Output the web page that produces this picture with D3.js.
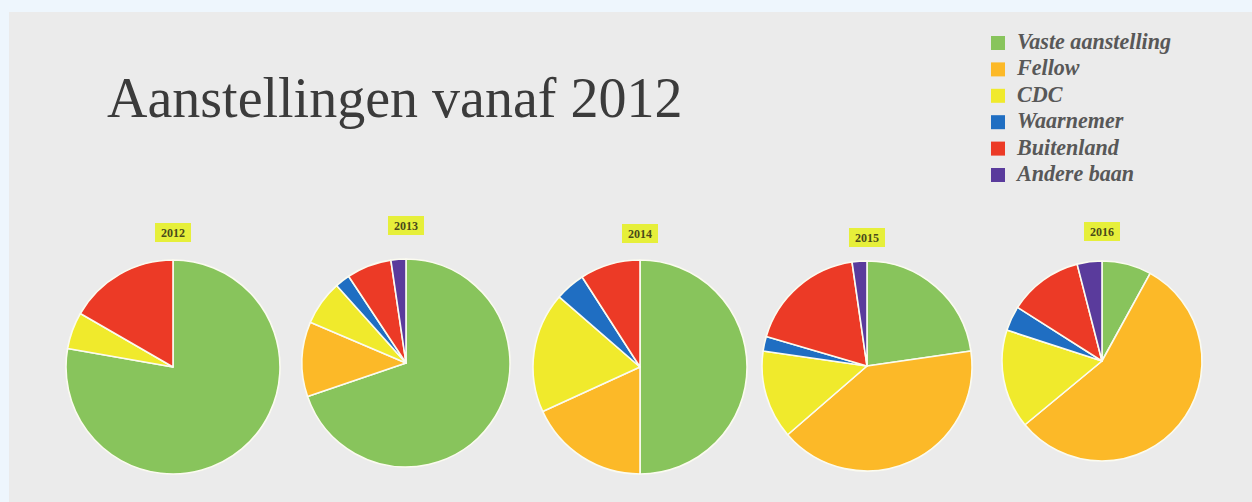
<!DOCTYPE html>
<html>
<head>
<meta charset="utf-8">
<script src="https://cdn.jsdelivr.net/npm/d3@7"></script>
<style>
  html, body { margin: 0; padding: 0; background: #eef6fd; }
  svg { display: block; }
</style>
</head>
<body>
<svg id="chart" width="1252" height="502"></svg>
<script>
// Appointment categories (legend order = slice order, clockwise from 12 o'clock)
const categories = ["Vaste aanstelling", "Fellow", "CDC", "Waarnemer", "Buitenland", "Andere baan"];
const years = ["2012", "2013", "2014", "2015", "2016"];

// Number of appointments per category, one array per year
const values2012 = [14, 0, 1, 0, 3, 0];
const values2013 = [30, 5, 3, 1, 3, 1];
const values2014 = [11, 4, 4, 1, 2, 0];
const values2015 = [10, 18, 6, 1, 8, 1];
const values2016 = [2, 14, 4, 1, 3, 1];

const titleText = "Aanstellingen vanaf 2012";

const series = [values2012, values2013, values2014, values2015, values2016];
const colors = ["#88c45c", "#fcb928", "#f0ea2c", "#1f6ec2", "#ec3a26", "#5a3b9c"];

const svg = d3.select("#chart");
const W = 1252, H = 502;

// Grey slide panel
svg.append("rect")
  .attr("x", 9).attr("y", 12)
  .attr("width", W - 9).attr("height", H - 12)
  .attr("fill", "#ebebeb");

// Title
const title = svg.append("text")
  .attr("x", 107).attr("y", 117)
  .attr("font-family", "'Liberation Serif', 'DejaVu Serif', serif")
  .attr("font-size", 56)
  .attr("fill", "#3b3b3b")
  .text(titleText);
const tw = title.node().getComputedTextLength();
if (Math.abs(tw - 578) > 4) title.attr("textLength", 578).attr("lengthAdjust", "spacingAndGlyphs");

// Legend
const color = d3.scaleOrdinal().domain(categories).range(colors);
const legendY = d3.scalePoint().domain(categories).range([43, 175]);
const legend = svg.append("g");
const rows = legend.selectAll("g").data(categories).join("g")
  .attr("transform", d => `translate(991, ${legendY(d)})`);
rows.append("rect")
  .attr("x", 0).attr("y", -7)
  .attr("width", 14).attr("height", 14)
  .attr("fill", d => color(d));
const ltext = rows.append("text")
  .attr("x", 26).attr("y", 6)
  .attr("font-family", "'Liberation Serif', 'DejaVu Serif', serif")
  .attr("font-style", "italic")
  .attr("font-weight", "bold")
  .attr("font-size", 18)
  .attr("fill", "#585858")
  .text(d => d);
// keep legend width consistent with the slide layout
const firstW = ltext.nodes()[0].getComputedTextLength();
if (firstW > 0) {
  const k = 154 / firstW;
  ltext.attr("font-size", 18 * k);
}

// Pies: placement of each year's pie and its label
const pieLayout = {
  "2012": { cx: 173, cy: 367, r: 107, ly: 233 },
  "2013": { cx: 406, cy: 363, r: 104, ly: 226 },
  "2014": { cx: 640, cy: 367, r: 107, ly: 234 },
  "2015": { cx: 867, cy: 366, r: 105, ly: 238 },
  "2016": { cx: 1102, cy: 361, r: 100, ly: 232 }
};

const pie = d3.pie().sort(null).value(d => d.value);

years.forEach((yr, i) => {
  const data = categories.map((c, j) => ({ cat: c, value: series[i][j] }));
  const L = pieLayout[yr];
  const g = svg.append("g").attr("transform", `translate(${L.cx}, ${L.cy})`);
  const arc = d3.arc().innerRadius(0).outerRadius(L.r);
  g.selectAll("path")
    .data(pie(data).filter(d => d.data.value > 0))
    .join("path")
    .attr("d", arc)
    .attr("fill", d => color(d.data.cat))
    .attr("stroke", "#fbfbf0")
    .attr("stroke-width", 1.6)
    .attr("stroke-linejoin", "round");

  // Year label on a highlighted box
  const lg = svg.append("g").attr("transform", `translate(${L.cx}, ${L.ly})`);
  lg.append("rect")
    .attr("x", -18).attr("y", -10)
    .attr("width", 36).attr("height", 19)
    .attr("fill", "#e6ef3a");
  lg.append("text")
    .attr("x", 0).attr("y", 4)
    .attr("text-anchor", "middle")
    .attr("font-family", "'Liberation Serif', 'DejaVu Serif', serif")
    .attr("font-size", 12)
    .attr("font-weight", "bold")
    .attr("fill", "#4a4a1a")
    .text(yr);
});
</script>
</body>
</html>
